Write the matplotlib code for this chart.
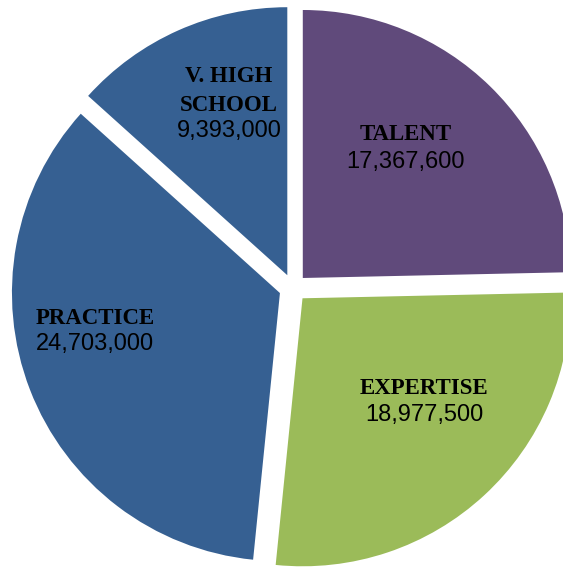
import matplotlib
matplotlib.use("Agg")
import matplotlib.pyplot as plt

categories = ["TALENT", "EXPERTISE", "PRACTICE", "V. HIGH\nSCHOOL"]
values = [17367600, 18977500, 24703000, 9393000]
colors = ["#604A7B", "#9BBB59", "#366092", "#366092"]

W, H = 563, 567
fig = plt.figure(figsize=(W / 100, H / 100), dpi=100)
ax = fig.add_axes([0, 0, 1, 1])

center = (293, H - 288)
radius = 268
wedges, _ = ax.pie(values, colors=colors, startangle=90, counterclock=False,
                   center=center, radius=radius, explode=[14] * len(values),
                   frame=True, wedgeprops=dict(linewidth=0))
ax.set_xlim(0, W)
ax.set_ylim(0, H)
ax.set_aspect("equal")
ax.axis("off")

# label anchor points (label line, value line) in pixel coords from top-left
label_pos = [(406, 135, 162), (424, 388, 415), (95, 318, 344), (229, 91, 131)]
serif = ["Liberation Serif", "DejaVu Serif"]
sans = ["Liberation Sans", "DejaVu Sans"]
for cat, val, (x, yl, yv) in zip(categories, values, label_pos):
    ax.text(x, H - yl, cat, ha="center", va="center", family=serif,
            fontweight="bold", fontsize=16.5, linespacing=1.45)
    ax.text(x, H - yv, f"{val:,}", ha="center", va="center", family=sans,
            fontsize=17)

fig.savefig("out.png", dpi=100)
